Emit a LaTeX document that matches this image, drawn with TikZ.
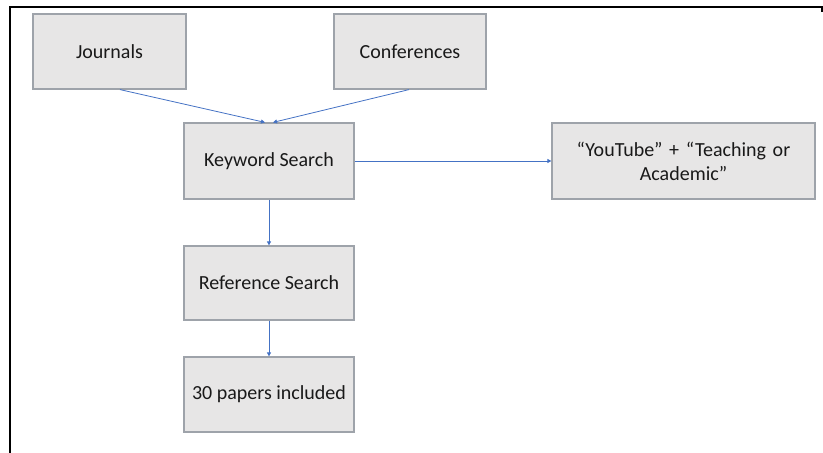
\documentclass[tikz,border=0pt]{standalone}
\usepackage{fontspec}
\setmainfont{Carlito}
\usetikzlibrary{arrows.meta}
\definecolor{boxfill}{HTML}{E7E6E6}
\definecolor{boxline}{HTML}{9EA3AA}
\definecolor{arrowblue}{HTML}{4472C4}
\begin{document}
\begin{tikzpicture}[x=1pt,y=-1pt,
  box/.style={draw=boxline,line width=1.2pt,fill=boxfill,align=center,font=\fontsize{20}{24}\selectfont,text=black!90},
  conn/.style={draw=arrowblue,line width=0.8pt,-{Triangle[length=4pt,width=4pt]}}]
\useasboundingbox (0,0) rectangle (823,453);
\draw[line width=2pt] (10,453) -- (10,7) -- (822,7) -- (822,12);
\node[box,minimum width=153pt,minimum height=75pt] (jour) at (109.5,51.5) {Journals};
\node[box,minimum width=152pt,minimum height=75pt] (conf) at (410,51.5) {Conferences};
\node[box,minimum width=170pt,minimum height=76pt] (kw) at (269,161) {Keyword Search};
\node[box,minimum width=263pt,minimum height=76pt,text width=250pt] (yt) at (683.5,161) {“YouTube” + “Teaching or\\Academic”};
\node[box,minimum width=170pt,minimum height=74pt] (ref) at (269,283) {Reference Search};
\node[box,minimum width=170pt,minimum height=75pt] (pap) at (269,394.5) {30 papers included};
\draw[conn] ([xshift=10.5pt]jour.south) -- ([xshift=-4pt]kw.north);
\draw[conn] ([xshift=-1pt]conf.south) -- ([xshift=4pt]kw.north);
\draw[conn] (kw.east) -- (yt.west);
\draw[conn] (kw.south) -- (ref.north);
\draw[conn] (ref.south) -- (pap.north);
\end{tikzpicture}
\end{document}
